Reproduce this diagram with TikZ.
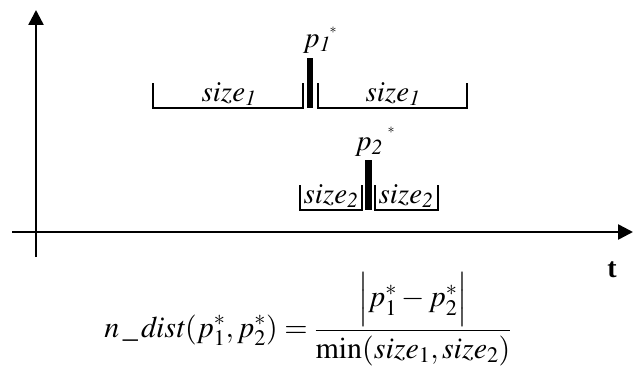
\documentclass[tikz,border=0pt]{standalone}
\usepackage{mathptmx}
\usepackage{fontspec}
\setmainfont{Liberation Serif}
\usetikzlibrary{arrows.meta}

\tikzset{
  axis/.style={line width=2.5pt, -{Triangle[length=15pt,width=15pt]}},
  bracket/.style={line width=2pt},
  lbl/.style={inner sep=0pt, font=\fontsize{29}{33}\selectfont},
}
\newcommand{\sizelbl}[1]{$\mathit{size}_{\mathit{#1}}$}

\begin{document}
\begin{tikzpicture}[x=1pt,y=-1pt]
\useasboundingbox (0,0) rectangle (636,369);

% axes
\draw[axis] (36,257) -- (36,10);
\draw[axis] (12,232) -- (633,232);
\node[lbl, font=\fontsize{28}{30}\selectfont\bfseries] (t) at (612,270) {t};

% first point
\draw[bracket] (153,83) -- (153,108) -- (303,108) -- (303,83);
\draw[bracket] (318,83) -- (318,108) -- (467,108) -- (467,83);
\fill (307,58) rectangle (313,108);
\node[lbl] (s1l) at (229,94) {\sizelbl{1}};
\node[lbl] (s1r) at (393,94) {\sizelbl{1}};
\node[lbl] (p1) at (317,44) {$p_{\mathit{1}}$};
\node[lbl, font=\fontsize{14}{16}\selectfont] (p1s) at (333,30) {$*$};

% second point
\draw[bracket] (300,185) -- (300,210) -- (362,210) -- (362,185);
\draw[bracket] (375,185) -- (375,210) -- (438,210) -- (438,185);
\fill (365,160) rectangle (372,210);
\node[lbl] (s2l) at (331,196) {\sizelbl{2}};
\node[lbl] (s2r) at (406,196) {\sizelbl{2}};
\node[lbl] (p2) at (369,147) {$p_{\mathit{2}}$};
\node[lbl, font=\fontsize{14}{16}\selectfont] (p2s) at (391,130) {$*$};

% distance
\node[lbl, font=\fontsize{30}{34}\selectfont] (dist) at (308,319)
  {$\displaystyle n\,\_\,\mathit{dist}(p^*_1,p^*_2)=\frac{\Big|p^*_1-p^*_2\Big|}{\min(\mathit{size}_1,\mathit{size}_2)}$};
\end{tikzpicture}
\end{document}
